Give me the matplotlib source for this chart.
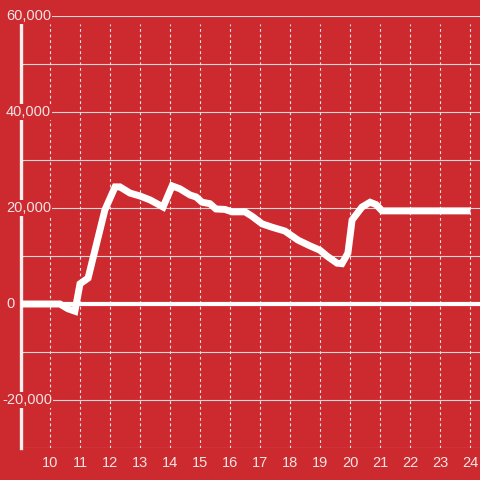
import matplotlib
matplotlib.use("Agg")
import matplotlib.pyplot as plt

# data (hour of day, value)
hours = [9.03, 10.33, 10.6, 10.83, 11.0, 11.27, 11.55, 11.83, 12.17, 12.33, 12.67,
         13.0, 13.33, 13.77, 14.07, 14.33, 14.67, 14.87, 15.07, 15.33, 15.53, 15.83,
         16.07, 16.5, 16.73, 17.07, 17.4, 17.83, 18.27, 18.67, 19.0, 19.23, 19.57,
         19.73, 19.93, 20.07, 20.4, 20.67, 20.87, 21.07, 23.9]
values = [0, 0, -1000, -1500, 4200, 5400, 12500, 19600, 24400, 24400, 23100,
          22500, 21700, 20200, 24600, 24000, 22700, 22300, 21200, 20900, 19800, 19700,
          19200, 19200, 18300, 16700, 16000, 15200, 13300, 12100, 11200, 10000, 8500,
          8400, 10600, 17500, 20200, 21200, 20700, 19400, 19400]

y_ticks = [-20000, 0, 20000, 40000, 60000]
x_ticks = list(range(10, 25))

red = '#cd2a2f'
txt = '#f2e4e4'

fig = plt.figure(figsize=(4.8, 4.8), dpi=100, facecolor=red)
ax = fig.add_axes([21/480, 32/480, 459/480, 432/480], facecolor=red)
ax.set_xlim(10 - 29/30, 24 + 10/30)
ax.set_ylim(-30000, 60000)

# horizontal grid every 10k
for v in range(-30000, 60001, 10000):
    ax.axhline(v, color='#d9d9d9', lw=0.8, zorder=1)
# dashed vertical grid
for h in x_ticks:
    ax.axvline(h, ymin=0, ymax=424/432, color='#e6e6e6', lw=0.8,
               linestyle=(0, (2.5, 2.5)), zorder=1)

# zero line
ax.axhline(0, color='white', lw=3, zorder=2)
ax.plot(hours, values, color='white', lw=5, solid_joinstyle='miter', zorder=3)

for s in ['top', 'right', 'bottom']:
    ax.spines[s].set_visible(False)
ax.spines['left'].set_color('#f4f0f0')
ax.spines['left'].set_linewidth(2.4)
ax.spines['left'].set_bounds(-30000, 58300)
ax.spines['left'].set_zorder(2)

ax.set_xticks([])
ax.set_yticks([])

# y labels sit inside the plot, left aligned near the figure edge
for v in y_ticks:
    px = 2 if v < 0 else 6
    ax.text(10 + (px - 50) / 30, v, f'{v:,}', ha='left', va='center', color=txt,
            fontsize=10.5, family='Liberation Sans', zorder=5,
            bbox=dict(fc=red, ec='none', pad=0.5))
for h in x_ticks:
    ax.text(h, -30000 - 15/48*10000, str(h), ha='center', va='center', color=txt,
            fontsize=10.5, family='Liberation Sans', clip_on=False)

fig.savefig('out.png', dpi=100, facecolor=red)
